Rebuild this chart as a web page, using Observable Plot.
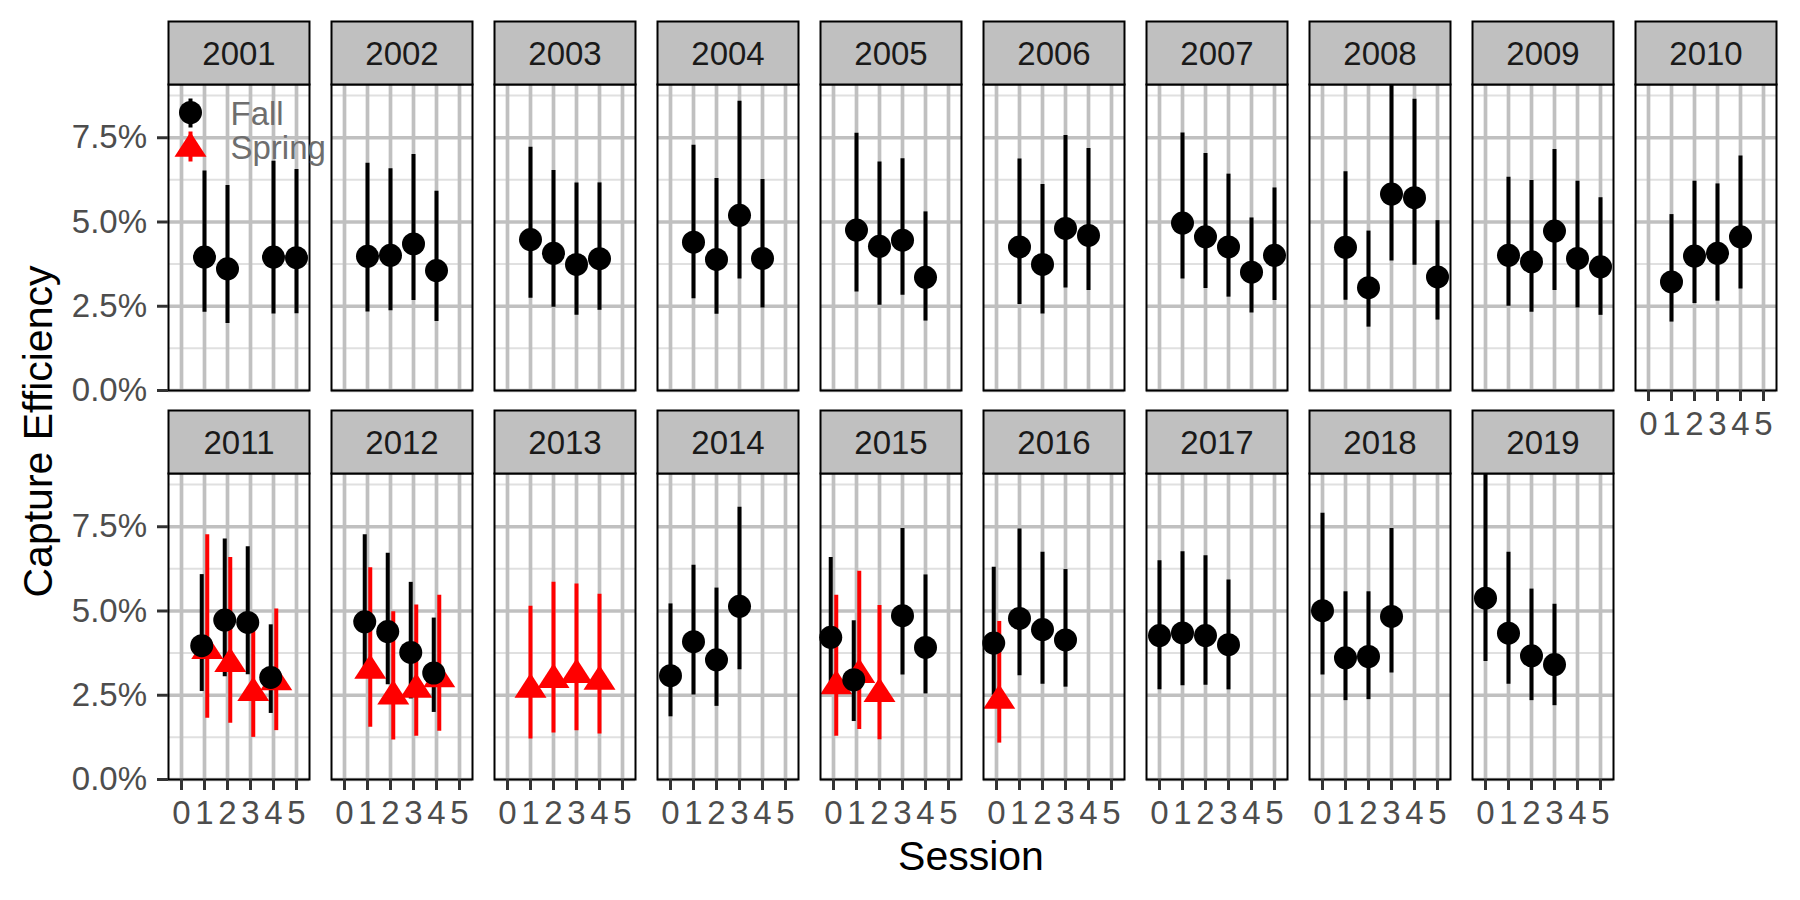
<!DOCTYPE html>
<html>
<head>
<meta charset="utf-8">
<script src="https://cdn.jsdelivr.net/npm/d3@7"></script>
<script src="https://cdn.jsdelivr.net/npm/@observablehq/plot@0.6"></script>
<style>
  html, body { margin: 0; padding: 0; background: #fff; }
  #chart { width: 1800px; height: 900px; }
</style>
</head>
<body>
<div id="chart"></div>
<script>
// ---------------- data ----------------
const years = [2001,2002,2003,2004,2005,2006,2007,2008,2009,2010,2011,2012,2013,2014,2015,2016,2017,2018,2019];
const sessionTicks = [0, 1, 2, 3, 4, 5];
const majorY = [0, 2.5, 5, 7.5];
const minorY = [1.25, 3.75, 6.25, 8.75];
const seasons = ["Fall", "Spring"];

const fallYear = [
  2001,2001,2001,2001, 2002,2002,2002,2002, 2003,2003,2003,2003, 2004,2004,2004,2004,
  2005,2005,2005,2005, 2006,2006,2006,2006, 2007,2007,2007,2007,2007, 2008,2008,2008,2008,2008,
  2009,2009,2009,2009,2009, 2010,2010,2010,2010, 2011,2011,2011,2011, 2012,2012,2012,2012,
  2014,2014,2014,2014, 2015,2015,2015,2015, 2016,2016,2016,2016, 2017,2017,2017,2017,
  2018,2018,2018,2018, 2019,2019,2019,2019
];
const fallSession = [
  1,2,4,5, 1,2,3,4, 1,2,3,4, 1,2,3,4,
  1,2,3,4, 1,2,3,4, 1,2,3,4,5, 1,2,3,4,5,
  1,2,3,4,5, 1,2,3,4, 1,2,3,4, 1,2,3,4,
  0,1,2,3, 0,1,3,4, 0,1,2,3, 0,1,2,3,
  0,1,2,3, 0,1,2,3
];
const fallEst = [
  3.96,3.61,3.96,3.94, 3.98,4.01,4.35,3.56, 4.48,4.07,3.74,3.91, 4.40,3.89,5.20,3.92,
  4.76,4.28,4.46,3.36, 4.26,3.74,4.81,4.60, 4.97,4.56,4.26,3.51,4.01, 4.25,3.05,5.83,5.72,3.37,
  4.01,3.82,4.73,3.92,3.67, 3.22,3.99,4.07,4.56, 3.97,4.73,4.66,3.03, 4.68,4.39,3.77,3.16,
  3.08,4.09,3.55,5.14, 4.22,2.96,4.86,3.92, 4.05,4.78,4.45,4.14, 4.27,4.35,4.27,4.00,
  5.01,3.61,3.65,4.84, 5.38,4.34,3.67,3.41
];
const fallLow = [
  2.32,1.99,2.27,2.28, 2.33,2.37,2.67,2.05, 2.74,2.47,2.23,2.38, 2.72,2.26,3.31,2.45,
  2.92,2.53,2.83,2.06, 2.55,2.27,3.04,2.97, 3.31,3.03,2.77,2.30,2.67, 2.68,1.88,3.84,3.72,2.09,
  2.50,2.32,2.97,2.45,2.23, 2.03,2.58,2.65,3.01, 2.61,3.05,3.11,1.96, 3.30,2.81,2.39,1.99,
  1.86,2.51,2.17,3.26, 2.60,1.72,3.10,2.54, 2.50,3.08,2.83,2.74, 2.66,2.78,2.80,2.66,
  3.10,2.34,2.37,3.16, 3.50,2.83,2.34,2.19
];
const fallHigh = [
  6.51,6.08,6.80,6.56, 6.74,6.58,7.00,5.91, 7.22,6.53,6.16,6.16, 7.28,6.29,8.58,6.26,
  7.63,6.78,6.88,5.30, 6.87,6.11,7.57,7.18, 7.64,7.03,6.42,5.12,6.01, 6.49,4.73,9.60,8.64,5.04,
  6.33,6.23,7.15,6.21,5.72, 5.22,6.21,6.13,6.96, 6.08,7.14,6.91,4.59, 7.26,6.71,5.85,4.79,
  5.21,6.36,5.68,8.08, 6.59,4.71,7.45,6.07, 6.30,7.43,6.74,6.23, 6.49,6.76,6.64,5.92,
  7.90,5.57,5.57,7.45, 9.60,6.74,5.65,5.20
];

const springYear    = [2011,2011,2011,2011, 2012,2012,2012,2012, 2013,2013,2013,2013, 2015,2015,2015, 2016];
const springSession = [1,2,3,4, 1,2,3,4, 1,2,3,4, 0,1,2, 0];
const springEst     = [3.82,3.43,2.57,2.89, 3.23,2.47,2.67,2.98, 2.67,2.96,3.11,2.91, 2.77,3.11,2.54, 2.34];
const springLow     = [1.82,1.67,1.25,1.45, 1.55,1.17,1.28,1.43, 1.20,1.38,1.45,1.35, 1.28,1.48,1.18, 1.08];
const springHigh    = [7.26,6.59,4.60,5.06, 6.28,4.98,5.18,5.47, 5.14,5.85,5.80,5.50, 5.47,6.18,5.16, 4.69];

// ---------------- layout / style ----------------
const W = 1800, H = 900;
const mLeft = 165, mRight = 22, mTop = 84, mBottom = 120.5;
const nCols = 10;
const fxPad = 0.138, fyPad = 0.2144;
const bandW = (W - mLeft - mRight) / (nCols - fxPad) * (1 - fxPad);
const stripH = 63;
const dodge = 0.12;
const textPx = 33;
const titlePx = 41;
const font = "'Liberation Sans', Arial, Helvetica, sans-serif";
const gridColor = "#C0C0C0";

// ---------------- table built from arrays ----------------
const rows = [];
fallYear.forEach((y, i) => rows.push({year: y, season: "Fall", session: fallSession[i], est: fallEst[i], lo: fallLow[i], hi: fallHigh[i]}));
springYear.forEach((y, i) => rows.push({year: y, season: "Spring", session: springSession[i], est: springEst[i], lo: springLow[i], hi: springHigh[i]}));
const keyOf = d => d.year + "-" + d.session;
const counts = d3.rollup(rows, v => v.length, keyOf);
const facetCol = y => (y - years[0]) % nCols;
const facetRow = y => Math.floor((y - years[0]) / nCols);
rows.forEach(d => {
  const n = counts.get(keyOf(d));
  d.xd = d.session + (n > 1 ? (d.season === "Fall" ? -dodge : dodge) : 0);
  d.col = facetCol(d.year);
  d.row = facetRow(d.year);
});
const fallRows = rows.filter(d => d.season === "Fall");
const springRows = rows.filter(d => d.season === "Spring");
const strips = years.map(y => ({year: y, col: facetCol(y), row: facetRow(y)}));
const legendFall = [{label: seasons[0], col: 0, row: 0}];
const legendSpring = [{label: seasons[1], col: 0, row: 0}];

// symbols
const triangle = {draw(ctx) { ctx.moveTo(0, -16.4); ctx.lineTo(16, 8.2); ctx.lineTo(-16, 8.2); ctx.closePath(); }};
const stripBox = {draw(ctx) { ctx.rect(-bandW / 2, -stripH / 2, bandW, stripH); }};
const keyLineFall = {draw(ctx) { ctx.moveTo(0, -14); ctx.lineTo(0, 15); }};
const keyLineSpring = {draw(ctx) { ctx.moveTo(0, -17); ctx.lineTo(0, 13); }};

const chart = Plot.plot({
  width: W, height: H,
  marginLeft: mLeft, marginRight: mRight, marginTop: mTop, marginBottom: mBottom,
  style: {fontFamily: font, fontSize: textPx + "px", background: "white", overflow: "visible"},
  x: {domain: [-0.565, 5.565]},
  y: {domain: [0, 9.08]},
  color: {domain: seasons, range: ["black", "#FF0000"]},
  fx: {domain: d3.range(nCols), paddingInner: fxPad, paddingOuter: 0, axis: null},
  fy: {domain: [0, 1], paddingInner: fyPad, paddingOuter: 0, axis: null},
  marks: [
    Plot.ruleY(minorY, {stroke: "#E0E0E0", strokeWidth: 2}),
    Plot.ruleY(majorY, {stroke: gridColor, strokeWidth: 3.7}),
    Plot.ruleX(sessionTicks, {stroke: gridColor, strokeWidth: 3.7}),
    Plot.ruleX(springRows, {x: "xd", y1: "lo", y2: "hi", fx: "col", fy: "row", stroke: "season", strokeWidth: 4, clip: true}),
    Plot.ruleX(fallRows, {x: "xd", y1: "lo", y2: "hi", fx: "col", fy: "row", stroke: "season", strokeWidth: 4, clip: true}),
    Plot.dot(springRows, {x: "xd", y: "est", fx: "col", fy: "row", symbol: triangle, fill: "season", stroke: "none"}),
    Plot.dot(fallRows, {x: "xd", y: "est", fx: "col", fy: "row", r: 11.5, fill: "season", stroke: "none"}),
    Plot.frame({stroke: "black", strokeWidth: 2}),
    // strips
    Plot.dot(strips, {fx: "col", fy: "row", frameAnchor: "top", dy: -stripH / 2, symbol: stripBox, fill: gridColor, stroke: "black", strokeWidth: 2}),
    Plot.text(strips, {fx: "col", fy: "row", frameAnchor: "top", dy: -stripH / 2 + 1, lineAnchor: "middle", text: d => String(d.year), fontSize: textPx, fill: "#1A1A1A"}),
    // legend inside first panel
    Plot.dot(legendFall, {fx: "col", fy: "row", frameAnchor: "top-left", dx: 22, dy: 28, symbol: keyLineFall, fill: "none", stroke: "black", strokeWidth: 4}),
    Plot.dot(legendFall, {fx: "col", fy: "row", frameAnchor: "top-left", dx: 22, dy: 28, r: 11.5, fill: "black", stroke: "none"}),
    Plot.dot(legendSpring, {fx: "col", fy: "row", frameAnchor: "top-left", dx: 22, dy: 64, symbol: keyLineSpring, fill: "none", stroke: "#FF0000", strokeWidth: 4}),
    Plot.dot(legendSpring, {fx: "col", fy: "row", frameAnchor: "top-left", dx: 22, dy: 64, symbol: triangle, fill: "#FF0000", stroke: "none"}),
    Plot.text(legendFall, {fx: "col", fy: "row", frameAnchor: "top-left", dx: 62, dy: 29.5, text: "label", textAnchor: "start", lineAnchor: "middle", fontSize: textPx, fill: "#6E6E6E"}),
    Plot.text(legendSpring, {fx: "col", fy: "row", frameAnchor: "top-left", dx: 62, dy: 64, text: "label", textAnchor: "start", lineAnchor: "middle", fontSize: textPx, fill: "#6E6E6E"}),
    // axes
    Plot.axisY({ticks: majorY, tickFormat: d => d.toFixed(1) + "%", tickSize: 11, tickPadding: 10.5, fontSize: textPx, fill: "#4D4D4D", stroke: "#333333", strokeWidth: 3, label: null, facetAnchor: "left"}),
    Plot.axisX({ticks: sessionTicks, tickFormat: d => String(d), tickSize: 11, tickPadding: 10, fontSize: textPx, fill: "#4D4D4D", stroke: "#333333", strokeWidth: 3, label: null, facetAnchor: "bottom-empty"})
  ]
});
document.getElementById("chart").appendChild(chart);

const svg = d3.select(chart.tagName.toLowerCase() === "svg" ? chart : chart.querySelector("svg"));

// axis titles
svg.append("text")
  .attr("x", 971).attr("y", 870)
  .attr("text-anchor", "middle")
  .style("font-family", font).style("font-size", titlePx + "px").attr("fill", "black")
  .text("Session");
svg.append("text")
  .attr("transform", "translate(52,431.5) rotate(-90)")
  .attr("text-anchor", "middle")
  .style("font-family", font).style("font-size", titlePx + "px").attr("fill", "black")
  .text("Capture Efficiency");
</script>
</body>
</html>
